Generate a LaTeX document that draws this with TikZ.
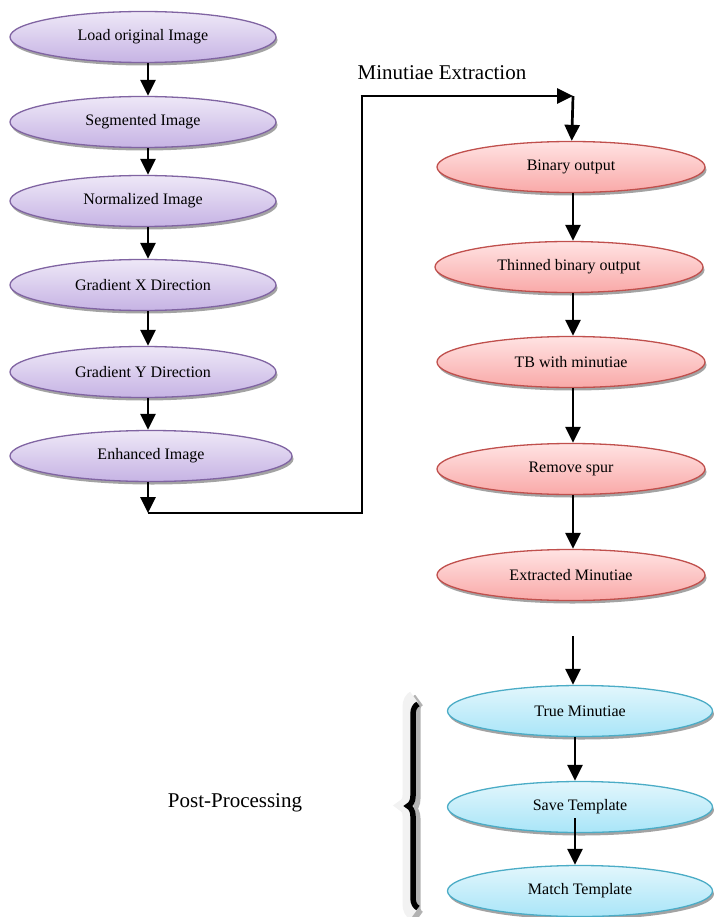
\documentclass[tikz,border=0pt]{standalone}
\usepackage{fontspec}
\setmainfont{Liberation Serif}
\usetikzlibrary{arrows.meta,shapes.geometric,shadows,calc,decorations.pathreplacing}
\definecolor{PLine}{HTML}{8064A2}
\definecolor{PTop}{HTML}{EEE8F7}
\definecolor{PBot}{HTML}{C6B3E4}
\definecolor{RLine}{HTML}{C0504D}
\definecolor{RTop}{HTML}{FFE3E3}
\definecolor{RBot}{HTML}{F9A9A8}
\definecolor{BLine}{HTML}{4BACC6}
\definecolor{BTop}{HTML}{E2F6FC}
\definecolor{BBot}{HTML}{A9E5F8}
\tikzset{
    stage/.style = {ellipse, draw, line width=1.3pt, inner sep=0pt,
        minimum width=266pt, minimum height=51pt,
        font=\fontsize{16}{19}\selectfont,
        drop shadow={shadow xshift=1.5pt, shadow yshift=-3pt, fill=black!45, opacity=.8}},
    prep/.style = {stage, draw=PLine, top color=PTop, bottom color=PBot},
    minu/.style = {stage, draw=RLine, top color=RTop, bottom color=RBot, minimum width=268pt},
    post/.style = {stage, draw=BLine, top color=BTop, bottom color=BBot, minimum width=265pt},
    arrow/.style = {draw, line width=2.7pt, -{Triangle[length=16pt,width=15pt]}},
    link/.style = {draw, line width=2.7pt},
    title/.style = {font=\fontsize{21}{25}\selectfont},
    bracepart/.style = {decorate, decoration={brace, amplitude=10pt}}
}
\begin{document}
\begin{tikzpicture}[x=1pt,y=-1pt]
        \useasboundingbox (0,0) rectangle (713,917);
        % pre-processing
        \node[prep] (load) at (143,37) {Load original Image};
        \node[prep] (seg) at (143,122) {Segmented Image};
        \node[prep] (norm) at (143,201) {Normalized Image};
        \node[prep] (gradx) at (143,285) {Gradient X Direction};
        \node[prep] (grady) at (143,372) {Gradient Y Direction};
        \node[prep, minimum width=282pt] (enh) at (151,456) {Enhanced Image};
        \coordinate (c1) at (148,513);
        \draw[arrow] (load.south -| c1) -- (seg.north -| c1);
        \draw[arrow] (seg.south -| c1) -- (norm.north -| c1);
        \draw[arrow] (norm.south -| c1) -- (gradx.north -| c1);
        \draw[arrow] (gradx.south -| c1) -- (grady.north -| c1);
        \draw[arrow] (grady.south -| c1) -- (enh.north -| c1);
        % minutiae extraction
        \node[title] (mext) at (442,73) {Minutiae Extraction};
        \node[minu] (bin) at (571,167) {Binary output};
        \node[minu] (thin) at (569,267) {Thinned binary output};
        \node[minu] (tb) at (571,362) {TB with minutiae};
        \node[minu] (spur) at (571,469) {Remove spur};
        \node[minu] (ext) at (571,575) {Extracted Minutiae};
        \coordinate (c2) at (362,513);
        \coordinate (c3) at (362,96);
        \coordinate (c4) at (573,96);
        \draw[arrow] (enh.south -| c1) -- (c1);
        \draw[link] (c1) -- (c2) -- (c3);
        \draw[arrow] ([xshift=-1.35pt]c3) -- (c4);
        \draw[arrow] (c4) -- (bin);
        \draw[arrow] (bin.south -| c4) -- (thin.north -| c4);
        \draw[arrow] (thin.south -| c4) -- (tb.north -| c4);
        \draw[arrow] (tb.south -| c4) -- (spur.north -| c4);
        \draw[arrow] (spur.south -| c4) -- (ext.north -| c4);
        % post-processing
        \node[title] (pproc) at (235,803) {Post-Processing};
        \node[post] (true) at (580,711) {True Minutiae};
        \node[post] (save) at (580,807) {Save Template};
        \node[post] (match) at (580,891) {Match Template};
        \coordinate (c5) at (573,636);
        \draw[arrow] (c5) -- (true.north -| c5);
        \draw[arrow] ([xshift=-5pt]true.south) -- ([xshift=-5pt]save.north);
        \draw[arrow] ([xshift=-5pt,yshift=-11pt]save.center) -- ([xshift=-5pt]match.north);
        \draw[bracepart, line width=13pt, black!30] (419,917) -- (419,700);
        \draw[bracepart, line width=13pt, black!5] (414,914) -- (414,697);
        \draw[bracepart, line width=5.5pt] (418,908) -- (418,704);
\end{tikzpicture}
\end{document}
